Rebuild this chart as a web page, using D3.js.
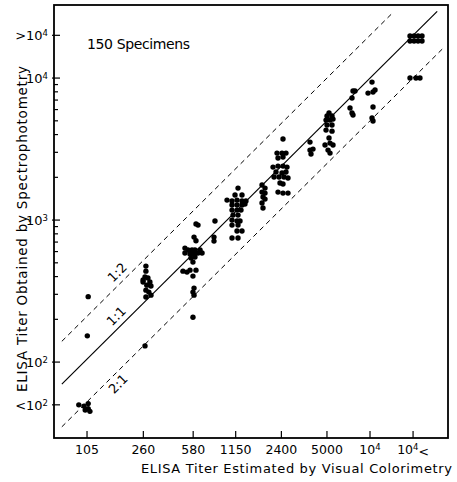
<!DOCTYPE html>
<html>
<head>
<meta charset="utf-8">
<script src="https://cdn.jsdelivr.net/npm/d3@7"></script>
<style>
  body { margin: 0; background: #fff; }
  svg text { font-family: "DejaVu Sans", sans-serif; fill: #000; }
</style>
</head>
<body>
<div id="chart"></div>
<script>
// ELISA titer: visual colorimetry (x) vs spectrophotometry (y)

const xTickValues = [105, 260, 580, 1150, 2400, 5000, 10000, 20000];
const xTickLabels = ["105", "260", "580", "1150", "2400", "5000", "10^4", "10^4<"];
const yTickValues = [50, 100, 1000, 10000, 20000];
const yTickLabels = ["<10^2", "10^2", "10^3", "10^4", ">10^4"];

// each specimen: visual estimate, spectrophotometric titer
const visualTiter = [
  // 105
  107, 105.5, 92, 100, 107, 107, 102, 110,
  // 260
  271, 271, 259, 267, 280, 289, 275, 294, 271, 284, 271, 294, 259, 267,
  // 580
  607, 627, 588, 607, 508, 534, 569, 597, 648, 508, 551, 588, 627, 669,
  560, 597, 578, 492, 525, 551, 607, 578, 588, 578, 588, 578,
  824, 811, 811,
  // 1150
  1194, 1138, 1273, 1000, 1084, 1175, 1273, 1357, 1084, 1175, 1273, 1335,
  1084, 1175, 1253, 1102, 1194, 1084, 1175, 1233, 1084, 1194, 1175, 1273,
  1084, 1194,
  1757, 1844, 1757, 1844, 1785, 1844, 1757, 1785,
  // 2400
  2463, 2237, 2424, 2585, 2273, 2463, 2098, 2273, 2463, 2627, 2201, 2424,
  2585, 2132, 2310, 2503, 2670, 2347, 2463, 2273, 2463, 2670,
  3805, 3805, 3993, 3867,
  // 5000
  5168, 5005, 5423, 4925, 5252, 5511, 5005, 5423, 4925, 5423, 5168, 5252,
  4846, 5511, 5086, 5252,
  7604, 7853, 7483, 7246, 7483, 7604,
  // 10^4
  10327, 9683, 10494, 10838, 10494, 10327, 10494,
  // >10^4
  19040, 20320, 21670, 23100, 19040, 20320, 21670, 23100,
  19040, 20960, 22350
];
const spectroTiter = [
  289, 153, 50, 49, 51, 47, 46, 45,
  474, 437, 378, 397, 391, 366, 348, 343, 321, 311, 287, 296, 366, 130,
  940, 922, 759, 715, 635, 615, 615, 615, 615, 586, 577, 577, 586, 586,
  540, 549, 506, 437, 430, 444, 444, 403, 332, 311, 296, 207,
  984, 759, 711,
  1680, 1500, 1500, 1383, 1361, 1383, 1361, 1361, 1276, 1276, 1276, 1296,
  1176, 1176, 1176, 1084, 1084, 1000, 984, 984, 922, 922, 837, 837,
  747, 747,
  1764, 1680, 1574, 1549, 1452, 1405, 1318, 1215,
  3720, 2963, 2963, 2963, 2733, 2778, 2361, 2400, 2400, 2361, 2178, 2143,
  2178, 2009, 2009, 2009, 1977, 1823, 1794, 1574, 1549, 1549,
  3540, 3111, 3162, 2916,
  5670, 5400, 5400, 5060, 5060, 5140, 4670, 4670, 4300, 4230, 3780, 3485,
  3375, 3375, 3111, 2963,
  8100, 8100, 7230, 6150, 5670, 5490,
  9371, 7840, 7970, 8234, 6250, 5230, 4980,
  19760, 19760, 19760, 19760, 18220, 18220, 18220, 18220,
  10000, 10000, 10000
];

// reference lines y = k * x
const ratioLabels = ["1:2", "1:1", "2:1"];
const ratioFactors = [2, 1, 0.5];
const ratioStart = [70, 70, 70];
const ratioEnd = [14500, 29500, 32000];
const ratioLabelAt = [191, 188, 156];
const ratioLabelSide = ["above", "above", "below"];

const W = 457, H = 482;
const frame = { left: 54, top: 5, right: 448, bottom: 438 };

const svg = d3.select("#chart").append("svg")
  .attr("width", W)
  .attr("height", H);

const x = d3.scaleLog().domain([61.7, 35100]).range([frame.left, frame.right]);
const y = d3.scaleLog().domain([29.2, 32700]).range([frame.bottom, frame.top]);

// write "10^4" style labels with a superscript
function supText(sel, label, supSize) {
  const m = label.match(/^(.*?)\^(\d)(.*)$/);
  if (!m) { sel.text(label); return; }
  sel.append("tspan").text(m[1]);
  sel.append("tspan").attr("dy", "-0.45em").style("font-size", supSize).text(m[2]);
  if (m[3]) sel.append("tspan").attr("dy", "0.45em").text(m[3]);
}

// reference lines
ratioLabels.forEach((lab, i) => {
  const k = ratioFactors[i];
  svg.append("line")
    .attr("x1", x(ratioStart[i])).attr("y1", y(ratioStart[i] * k))
    .attr("x2", x(ratioEnd[i])).attr("y2", y(ratioEnd[i] * k))
    .attr("stroke", "#000")
    .attr("stroke-width", k === 1 ? 1.2 : 1)
    .attr("stroke-dasharray", k === 1 ? null : "5,4");

  const px = x(ratioLabelAt[i]), py = y(ratioLabelAt[i] * k);
  const off = ratioLabelSide[i] === "above" ? -7 : 6.5;
  svg.append("text")
    .attr("transform", `translate(${px + off},${py + off}) rotate(-45)`)
    .attr("text-anchor", "middle")
    .attr("dominant-baseline", "central")
    .style("font-size", "13px")
    .text(lab);
});

// points
svg.append("g")
  .selectAll("circle")
  .data(visualTiter.map((v, i) => [v, spectroTiter[i]]))
  .join("circle")
  .attr("cx", d => x(d[0]))
  .attr("cy", d => y(d[1]))
  .attr("r", 2.7)
  .attr("fill", "#000");

// frame
svg.append("rect")
  .attr("x", frame.left).attr("y", frame.top)
  .attr("width", frame.right - frame.left)
  .attr("height", frame.bottom - frame.top)
  .attr("fill", "none")
  .attr("stroke", "#000")
  .attr("stroke-width", 1.8);

// x ticks
xTickValues.forEach((v, i) => {
  svg.append("line")
    .attr("x1", x(v)).attr("x2", x(v))
    .attr("y1", frame.bottom).attr("y2", frame.bottom - 7)
    .attr("stroke", "#000").attr("stroke-width", 1.2);
  const t = svg.append("text")
    .attr("x", x(v)).attr("y", 454)
    .attr("text-anchor", "middle")
    .style("font-size", "12.5px");
  supText(t, xTickLabels[i], "8.5px");
});

// y minor ticks
const minor = [];
[100, 1000].forEach(dec => { for (let m = 2; m <= 9; m++) minor.push(dec * m); });
svg.append("g")
  .selectAll("line")
  .data(minor)
  .join("line")
  .attr("x1", frame.left).attr("x2", frame.left + 4)
  .attr("y1", d => y(d)).attr("y2", d => y(d))
  .attr("stroke", "#000").attr("stroke-width", 1.2);

// y major ticks
yTickValues.forEach((v, i) => {
  svg.append("line")
    .attr("x1", frame.left - 2).attr("x2", frame.left + 6)
    .attr("y1", y(v)).attr("y2", y(v))
    .attr("stroke", "#000").attr("stroke-width", 1.2);
  const t = svg.append("text")
    .attr("x", 48).attr("y", y(v) + 5)
    .attr("text-anchor", "end")
    .style("font-size", "13px");
  supText(t, yTickLabels[i], "8.5px");
});

// annotations and titles
svg.append("text")
  .attr("x", 87).attr("y", 49)
  .style("font-size", "14px")
  .attr("textLength", 103)
  .text("150 Specimens");

svg.append("text")
  .attr("x", 141).attr("y", 473)
  .style("font-size", "13px")
  .attr("textLength", 311)
  .text("ELISA Titer Estimated by Visual Colorimetry");

svg.append("text")
  .attr("transform", "translate(27,392) rotate(-90)")
  .style("font-size", "13.5px")
  .attr("textLength", 326)
  .text("ELISA Titer Obtained by Spectrophotometry");
</script>
</body>
</html>
